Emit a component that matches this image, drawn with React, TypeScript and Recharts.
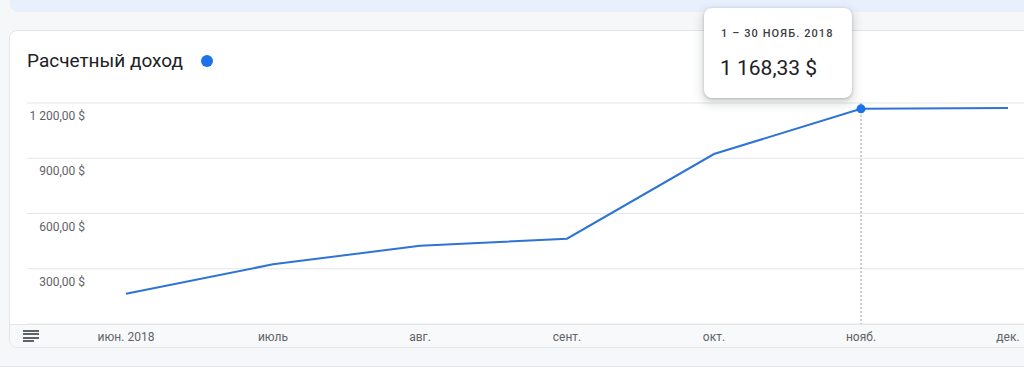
import { CartesianGrid, Line, LineChart, Tooltip, XAxis, YAxis } from "recharts";

const months = ["июн. 2018", "июль", "авг.", "сент.", "окт.", "нояб.", "дек."];
const periods = [
  "1 – 30 ИЮН. 2018",
  "1 – 31 ИЮЛ. 2018",
  "1 – 31 АВГ. 2018",
  "1 – 30 СЕНТ. 2018",
  "1 – 31 ОКТ. 2018",
  "1 – 30 НОЯБ. 2018",
  "1 – 31 ДЕК. 2018",
];
const revenue = [164, 324, 425, 463, 923, 1168.33, 1173];
const yTicks = [0, 300, 600, 900, 1200];
const activeMonth = 5;

const chartData = months.map((month, i) => ({ month, period: periods[i], revenue: revenue[i] }));

const font = "Roboto, 'Noto Sans', sans-serif";
const blue = "#2e73d6";

function money(v: number) {
  return v.toLocaleString("ru-RU", { minimumFractionDigits: 2, maximumFractionDigits: 2 }) + " $";
}

// labels sit under their gridline, right-aligned
function renderYTick(props: any) {
  const { y, payload } = props;
  if (payload.value === 0) return <g />;
  return (
    <text x={58} y={y + 17} fill="#5f6368" fontSize={12} fontFamily={font} textAnchor="end">
      {money(payload.value)}
    </text>
  );
}

function TipBox({ active, payload }: any) {
  if (!active || !payload || !payload.length) return null;
  const row = payload[0].payload;
  return (
    <div
      style={{
        position: "relative",
        width: 148,
        height: 90,
        background: "#fff",
        borderRadius: 8,
        boxShadow: "0 1px 3px rgba(60,64,67,0.3), 0 4px 8px 3px rgba(60,64,67,0.15)",
        fontFamily: font,
        color: "#202124",
      }}
    >
      <div style={{ position: "absolute", left: 17, top: 18, fontSize: 11, lineHeight: "16px", fontWeight: 500, letterSpacing: 1.1, color: "#3c4043", whiteSpace: "nowrap" }}>
        {row.period}
      </div>
      <div style={{ position: "absolute", left: 16, top: 48, fontSize: 21, lineHeight: "24px", whiteSpace: "nowrap" }}>
        {money(row.revenue)}
      </div>
    </div>
  );
}

function MenuIcon() {
  const bars = [16, 16, 16, 11];
  return (
    <div style={{ position: "absolute", left: 23, top: 330 }}>
      {bars.map((w, i) => (
        <div key={i} style={{ width: w, height: 2, background: "#5f6368", marginBottom: 1.3 }} />
      ))}
    </div>
  );
}

export default function App() {
  return (
    <div
      style={{
        position: "fixed",
        left: 0,
        top: 0,
        width: 1024,
        height: 367,
        overflow: "hidden",
        background: "#f6f7f9",
        fontFamily: font,
      }}
    >
      <div style={{ position: "absolute", left: 10, top: -10, width: 1040, height: 22, background: "#e8f0fe", borderRadius: 8 }} />
      <div
        style={{
          position: "absolute",
          left: 9,
          top: 30,
          width: 1040,
          height: 318,
          background: "#fff",
          border: "1px solid #e3e5e8",
          borderRadius: 8,
          boxSizing: "border-box",
          overflow: "hidden",
        }}
      >
        <div style={{ position: "absolute", left: 0, top: 293, width: "100%", height: 26, background: "#f8f9fa", borderTop: "1px solid #e3e5e8" }} />
      </div>
      <div style={{ position: "absolute", left: 0, top: 366, width: 1024, height: 1, background: "#e3e5e8" }} />
      <div style={{ position: "absolute", left: 27, top: 49, fontSize: 19, lineHeight: "24px", color: "#202124" }}>
        Расчетный доход
      </div>
      <div style={{ position: "absolute", left: 201, top: 55, width: 12, height: 12, borderRadius: 6, background: "#1a73e8" }} />
      <MenuIcon />
      <div style={{ position: "absolute", left: 27, top: 0 }}>
        <LineChart width={1018} height={350} data={chartData} margin={{ top: 103, right: 0, left: -60, bottom: 2 }}>
          <CartesianGrid vertical={false} stroke="#e3e5e8" />
          <XAxis
            dataKey="month"
            height={24}
            axisLine={false}
            tickLine={false}
            padding={{ left: 99, right: 37 }}
            interval={0}
            tick={{ fill: "#5f6368", fontSize: 12, fontFamily: font }}
          />
          <YAxis width={60} domain={[0, 1200]} ticks={yTicks} axisLine={false} tickLine={false} tick={renderYTick} />
          <Tooltip
            content={<TipBox />}
            defaultIndex={activeMonth}
            position={{ x: 677, y: 8 }}
            allowEscapeViewBox={{ x: true, y: true }}
            isAnimationActive={false}
            cursor={{ stroke: "#9aa0a6", strokeWidth: 1, strokeDasharray: "2 2" }}
            wrapperStyle={{ outline: "none" }}
          />
          <Line
            type="linear"
            dataKey="revenue"
            stroke={blue}
            strokeWidth={2}
            dot={false}
            activeDot={{ r: 4.5, fill: "#1a73e8", stroke: "none" }}
            isAnimationActive={false}
          />
        </LineChart>
      </div>
    </div>
  );
}
